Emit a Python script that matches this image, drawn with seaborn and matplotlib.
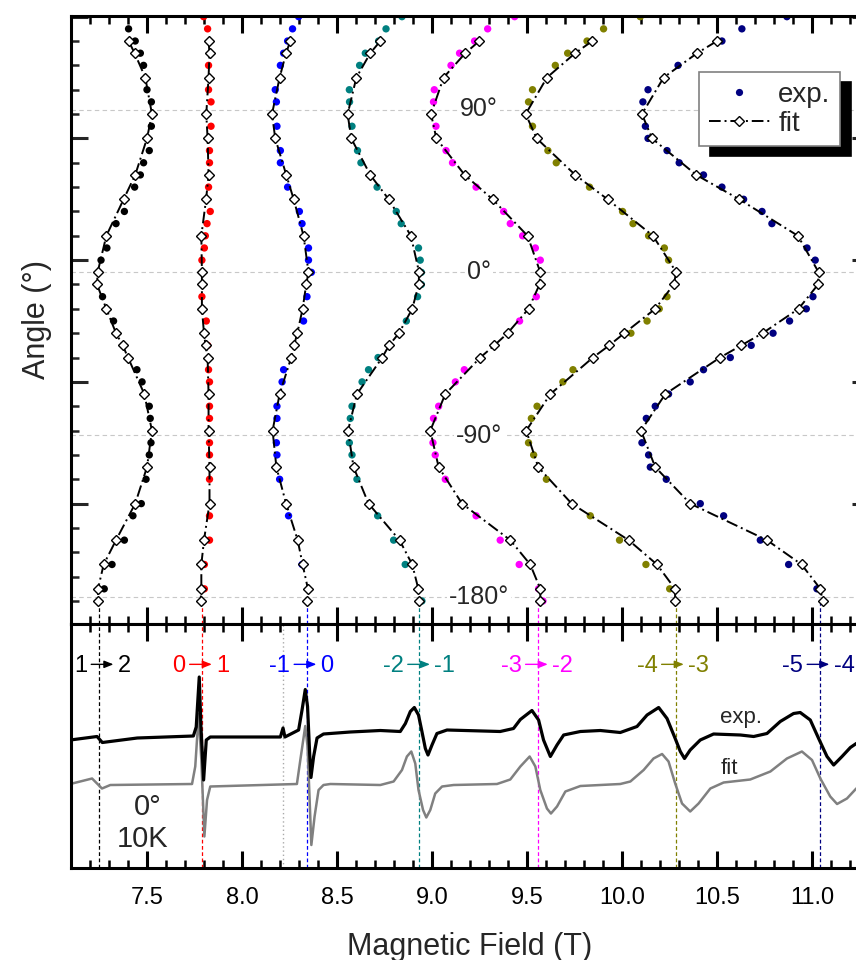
"""Angular dependence of the HFEPR transitions and the 0 deg / 10 K spectrum."""

import matplotlib

matplotlib.use("Agg")
import matplotlib.pyplot as plt
import pandas as pd
import seaborn as sns
from matplotlib.lines import Line2D
from matplotlib.ticker import MultipleLocator
from matplotlib.transforms import ScaledTranslation

CURVES = ["1-2", "0-1", "-1-0", "-2--1", "-3--2", "-4--3", "-5--4"]
COLORS = ["#000000", "#ff0000", "#0000ff", "#008080", "#ff00ff", "#808000", "#000080"]
LEVEL_FROM = ["1", "0", "-1", "-2", "-3", "-4", "-5"]
LEVEL_TO = ["2", "1", "0", "-1", "-2", "-3", "-4"]
TRANSITION_FIELD = [7.249, 7.791, 8.344, 8.933, 9.560, 10.286, 11.044]
ARROW_FIELD = [7.265, 7.783, 8.333, 8.931, 9.551, 10.267, 11.033]
DOTTED_FIELD = 8.217

# measured angles (deg) shared by all exp. series
EXP_ANGLE = [141.75, 135.0, 128.25, 121.5, 114.75, 108.0, 101.25, 94.5, 87.75, 81.0,
             74.25, 67.5, 60.75, 54.0, 47.25, 40.5, 33.75, 27.0, 20.25, 13.5,
             6.75, 0.0, -6.75, -13.5, -20.25, -27.0, -33.75, -40.5, -47.25, -54.0,
             -60.75, -67.5, -74.25, -81.0, -87.75, -94.5, -101.25, -108.0, -114.75, -121.5,
             -128.25, -135.0, -141.75, -148.5, -155.25, -162.0, -168.75, -175.5, -182.25]

FIT_ANGLE = [128.25, 121.5, 108.0, 87.75, 74.25, 54.0, 40.5, 20.25, 0.0, -6.75,
             -20.25, -33.75, -40.5, -47.25, -67.5, -87.75, -108.0, -128.25, -148.5, -162.0,
             -175.5, -182.25]

N = None
EXP_1_2 = [N, 7.403, 7.438, 7.465, 7.482, N, 7.500, 7.523, N, 7.523,
           N, 7.512, 7.482, 7.465, 7.435, N, 7.381, 7.337, N, 7.289,
           7.258, N, N, 7.266, N, 7.324, N, 7.375, N, 7.447,
           7.474, N, 7.512, 7.517, N, 7.521, 7.512, N, 7.495, N,
           7.470, 7.426, N, 7.381, N, 7.316, N, 7.275, N]
EXP_0_1 = [7.798, 7.819, N, N, 7.824, N, 7.824, 7.837, N, 7.837,
           N, 7.829, 7.829, N, 7.824, N, 7.833, 7.816, 7.807, 7.802,
           7.789, N, N, 7.789, N, 7.812, N, 7.819, N, 7.824,
           7.829, N, 7.829, 7.829, N, 7.829, 7.829, N, 7.829, N,
           N, 7.829, N, 7.829, N, 7.802, N, 7.802, N]
EXP_M1_0 = [8.298, 8.266, 8.240, 8.219, 8.202, N, 8.175, 8.181, N, 8.184,
            N, 8.202, 8.202, N, 8.240, N, 8.302, 8.316, N, 8.350,
            8.350, 8.365, N, 8.342, N, 8.324, N, N, N, 8.219,
            8.211, N, 8.184, 8.184, N, 8.181, 8.184, N, 8.198, N,
            N, 8.245, N, N, N, 8.316, N, N, N]
EXP_M2_M1 = [8.842, 8.758, 8.719, 8.649, 8.619, N, 8.565, 8.566, N, 8.579,
             N, 8.608, 8.626, N, 8.711, N, 8.812, 8.838, N, 8.929,
             8.938, 8.944, 8.944, 8.924, N, 8.865, N, N, 8.716, 8.666,
             8.632, N, 8.579, 8.570, N, 8.565, 8.579, N, 8.605, N,
             N, 8.714, N, 8.798, N, 8.859, N, N, 8.947]
EXP_M3_M2 = [9.435, 9.293, 9.224, 9.145, 9.100, N, 9.012, 9.008, N, 9.021,
             N, 9.074, 9.108, N, 9.232, N, 9.377, 9.412, 9.477, 9.544,
             9.570, N, N, 9.549, N, 9.461, N, N, N, 9.170,
             9.123, N, 9.035, 9.008, N, 9.005, 9.017, N, 9.070, N,
             N, 9.232, N, 9.359, N, 9.459, N, 9.561, 9.584]
EXP_M4_M3 = [10.096, 9.903, 9.816, 9.714, 9.649, N, 9.529, 9.508, N, 9.529,
             N, 9.610, 9.654, N, 9.829, N, 10.003, 10.058, 10.140, 10.223,
             10.245, N, N, 10.237, 10.196, 10.132, 10.047, N, N, 9.742,
             9.689, N, 9.553, 9.523, N, 9.508, 9.535, N, 9.602, N,
             N, 9.833, N, 9.987, N, 10.126, N, 10.251, N]
EXP_M5_M4 = [10.868, 10.631, 10.526, N, 10.295, N, 10.137, 10.110, N, 10.123,
             10.137, 10.237, 10.301, 10.429, 10.526, 10.640, 10.737, 10.789, N, 10.974,
             11.017, N, N, 11.005, 10.970, 10.882, 10.795, 10.680, 10.570, 10.429,
             10.359, 10.245, 10.175, 10.128, N, 10.105, 10.140, 10.149, 10.233, N,
             10.412, 10.535, N, 10.728, N, 10.877, N, 11.026, N]

FIT_1_2 = [7.403, 7.435, 7.491, 7.526, 7.500, 7.438, 7.377, 7.286, 7.240, 7.237, 7.286,
           7.337, 7.372, 7.400, 7.486, 7.526, 7.500, 7.438, 7.337, 7.272, 7.242, 7.242]
FIT_0_1 = [7.824, 7.829, 7.824, 7.812, 7.819, 7.824, 7.811, 7.786, 7.789, 7.789, 7.789,
           7.800, 7.808, 7.819, 7.824, 7.824, 7.829, 7.829, 7.800, 7.786, 7.786, 7.782]
FIT_M1_0 = [8.254, 8.232, 8.198, 8.158, 8.175, 8.233, 8.272, 8.324, 8.350, 8.338, 8.319,
            8.291, 8.274, 8.259, 8.198, 8.161, 8.181, 8.232, 8.293, 8.319, 8.347, 8.344]
FIT_M2_M1 = [8.728, 8.675, 8.602, 8.556, 8.575, 8.675, 8.772, 8.889, 8.932, 8.930, 8.896,
             8.826, 8.774, 8.738, 8.605, 8.558, 8.587, 8.666, 8.829, 8.896, 8.928, 8.932]
FIT_M3_M2 = [9.249, 9.175, 9.061, 8.995, 9.023, 9.172, 9.319, 9.503, 9.570, 9.566, 9.508,
             9.398, 9.328, 9.254, 9.070, 8.991, 9.035, 9.158, 9.412, 9.517, 9.570, 9.570]
FIT_M4_M3 = [9.844, 9.753, 9.605, 9.493, 9.551, 9.754, 9.924, 10.163, 10.286, 10.272, 10.175,
             10.012, 9.933, 9.847, 9.623, 9.496, 9.559, 9.735, 10.035, 10.184, 10.279, 10.280]
FIT_M5_M4 = [10.500, 10.395, 10.219, 10.105, 10.158, 10.391, 10.617, 10.926, 11.035, 11.032, 10.929,
             10.740, 10.628, 10.516, 10.228, 10.100, 10.175, 10.359, 10.763, 10.945, 11.044, 11.056]

EXP_FIELDS = [EXP_1_2, EXP_0_1, EXP_M1_0, EXP_M2_M1, EXP_M3_M2, EXP_M4_M3, EXP_M5_M4]
FIT_FIELDS = [FIT_1_2, FIT_0_1, FIT_M1_0, FIT_M2_M1, FIT_M3_M2, FIT_M4_M3, FIT_M5_M4]

# 0 deg, 10 K spectrum (arbitrary units)
SPEC_EXP_FIELD = [7.096, 7.237, 7.265, 7.449, 7.744, 7.759, 7.775, 7.784, 7.798, 7.812,
                  7.833, 8.202, 8.216, 8.226, 8.298, 8.316, 8.333, 8.345, 8.356, 8.363,
                  8.377, 8.395, 8.429, 8.570, 8.728, 8.833, 8.860, 8.886, 8.907, 8.929,
                  8.947, 8.965, 8.979, 9.000, 9.026, 9.079, 9.359, 9.429, 9.465, 9.526,
                  9.561, 9.587, 9.623, 9.658, 9.693, 9.781, 9.886, 9.991, 10.079, 10.132,
                  10.193, 10.237, 10.280, 10.307, 10.329, 10.359, 10.412, 10.482, 10.623, 10.693,
                  10.763, 10.833, 10.903, 10.938, 10.991, 11.035, 11.079, 11.114, 11.158, 11.202,
                  11.233, 11.307]
SPEC_EXP_SIGNAL = [0.88, 0.95, 0.83, 0.92, 0.96, 1.14, 2.14, 1.14, 0.08, 0.88,
                   0.94, 0.94, 1.12, 0.94, 1.08, 1.48, 1.89, 1.55, 0.62, 0.13,
                   0.55, 0.92, 1.00, 1.04, 1.07, 1.05, 1.21, 1.45, 1.53, 1.38,
                   1.05, 0.71, 0.58, 0.78, 1.01, 1.08, 1.05, 1.11, 1.29, 1.47,
                   1.28, 0.88, 0.55, 0.78, 0.98, 1.05, 1.07, 1.03, 1.15, 1.38,
                   1.53, 1.31, 0.91, 0.65, 0.51, 0.68, 0.88, 1.00, 0.98, 0.95,
                   1.01, 1.25, 1.41, 1.43, 1.28, 0.91, 0.55, 0.38, 0.55, 0.73,
                   0.81, 0.90]
SPEC_FIT_FIELD = [7.096, 7.211, 7.263, 7.307, 7.737, 7.754, 7.772, 7.786, 7.802, 7.816,
                  7.833, 8.289, 8.307, 8.333, 8.345, 8.356, 8.365, 8.382, 8.403, 8.429,
                  8.465, 8.728, 8.798, 8.842, 8.868, 8.891, 8.912, 8.929, 8.953, 8.970,
                  8.991, 9.017, 9.053, 9.114, 9.342, 9.412, 9.465, 9.514, 9.544, 9.570,
                  9.605, 9.626, 9.658, 9.702, 9.781, 9.991, 10.044, 10.114, 10.166, 10.211,
                  10.245, 10.280, 10.316, 10.359, 10.403, 10.465, 10.535, 10.675, 10.781, 10.868,
                  10.947, 11.000, 11.044, 11.096, 11.132, 11.184, 11.233, 11.307]
SPEC_FIT_SIGNAL = [0.00, 0.11, -0.09, -0.02, 0.00, 0.35, 1.40, 0.48, -1.05, -0.32,
                   -0.05, 0.00, 0.48, 1.16, 0.75, -0.32, -1.22, -0.65, -0.12, -0.02,
                   0.00, -0.02, 0.05, 0.28, 0.55, 0.65, 0.41, -0.12, -0.52, -0.67,
                   -0.52, -0.19, -0.05, -0.02, 0.00, 0.09, 0.35, 0.55, 0.35, -0.12,
                   -0.49, -0.59, -0.45, -0.15, -0.04, 0.00, 0.05, 0.28, 0.51, 0.60,
                   0.45, 0.01, -0.39, -0.55, -0.39, -0.09, 0.03, 0.09, 0.25, 0.51,
                   0.65, 0.48, 0.11, -0.25, -0.40, -0.29, -0.09, 0.05]

ANGLE_MARKS = [90, 0, -90, -180]
ANGLE_TEXT = ["90°", "0°", "-90°", "-180°"]
ANGLE_TEXT_Y = [86.7, -3.9, -94.5, -183.9]
ANGLE_TEXT_X = 9.247

FIT_DASHES = (6, 2, 1, 2)


def build_frame() -> pd.DataFrame:
    rows = []
    for name, fields in zip(CURVES, EXP_FIELDS):
        for angle, field in zip(EXP_ANGLE, fields):
            if field is not None:
                rows.append({"curve": name, "angle": angle, "field": field})
    return pd.DataFrame(rows)


def style_ticks(ax, show_labels: bool) -> None:
    ax.set_xlim(7.10, 11.30)
    ax.xaxis.set_major_locator(MultipleLocator(0.5))
    ax.xaxis.set_minor_locator(MultipleLocator(0.1))
    ax.tick_params(axis="x", which="both", direction="in", top=True, bottom=True,
                   labelbottom=show_labels, labelsize=17, pad=14, colors="black")
    ax.tick_params(axis="both", which="major", length=12, width=2.2)
    ax.tick_params(axis="both", which="minor", length=5.5, width=1.8)
    for spine in ax.spines.values():
        spine.set_visible(True)
        spine.set_linewidth(2.2)
        spine.set_color("black")


def draw_transition_labels(fig, ax, baseline: float) -> None:
    for field, lo, hi, color in zip(ARROW_FIELD, LEVEL_FROM, LEVEL_TO, COLORS):
        ax.annotate(lo, xy=(field, baseline), xytext=(-11, 0), textcoords="offset points",
                    ha="right", va="baseline", fontsize=17, color=color)
        ax.annotate(hi, xy=(field, baseline), xytext=(11, 0), textcoords="offset points",
                    ha="left", va="baseline", fontsize=17, color=color)
        head = ax.transData + ScaledTranslation(8 / 72, 5.3 / 72, fig.dpi_scale_trans)
        ax.annotate("", xy=(field, baseline), xycoords=head, xytext=(-16, 0),
                    textcoords="offset points",
                    arrowprops=dict(arrowstyle="-|>,head_length=0.55,head_width=0.22",
                                    color=color, lw=1.0, shrinkA=0, shrinkB=0,
                                    mutation_scale=10))


def main() -> None:
    sns.set_theme(style="ticks")
    plt.rcParams["font.family"] = ["Liberation Sans", "DejaVu Sans"]

    exp_df = build_frame()

    fig = plt.figure(figsize=(8.56, 9.6), dpi=100)
    ax_top = fig.add_axes([0.08294, 0.35, 0.93224, 0.63385])
    ax_bot = fig.add_axes([0.08294, 0.09583, 0.93224, 0.25417])

    # ---- angular dependence ----
    for mark in ANGLE_MARKS:
        ax_top.axhline(mark, color="#c8c8c8", lw=0.8, ls=(0, (4, 3)), zorder=0)

    sns.scatterplot(data=exp_df, x="field", y="angle", hue="curve", hue_order=CURVES,
                    palette=COLORS, s=28, edgecolor="none", legend=False, ax=ax_top, zorder=2)

    for fields in FIT_FIELDS:
        ax_top.plot(fields, FIT_ANGLE, color="black", lw=1.4, dashes=FIT_DASHES, zorder=3)
        ax_top.plot(fields, FIT_ANGLE, ls="none", marker="D", ms=5.6, mfc="white",
                    mec="black", mew=1.0, zorder=4)

    for text, y in zip(ANGLE_TEXT, ANGLE_TEXT_Y):
        ax_top.text(ANGLE_TEXT_X, y, text, ha="center", va="baseline", fontsize=18,
                    bbox=dict(facecolor="white", edgecolor="none", pad=1.5), zorder=1)

    ax_top.vlines(TRANSITION_FIELD, -195.0, -183.5, colors=COLORS, lw=0.9,
                  linestyles=(0, (3, 2)), zorder=1)

    ax_top.set_ylim(-195.0, 142.4)
    ax_top.yaxis.set_major_locator(MultipleLocator(67.5, offset=6.75))
    ax_top.yaxis.set_minor_locator(MultipleLocator(13.5, offset=6.75))
    ax_top.tick_params(axis="y", which="both", direction="in", left=True, right=True,
                       labelleft=False)
    style_ticks(ax_top, show_labels=False)
    ax_top.set_xlabel("")
    ax_top.set_ylabel("Angle (°)", fontsize=22, labelpad=14)

    handles = [
        Line2D([], [], ls="none", marker="o", ms=5.2, mfc="#000080", mec="none"),
        Line2D([], [], color="black", lw=1.4, dashes=FIT_DASHES, marker="D", ms=5.6,
               mfc="white", mec="black", mew=1.0),
    ]
    legend = ax_top.legend(handles, ["exp.", "fit"], loc="upper left",
                           bbox_to_anchor=(0.787, 0.907), borderaxespad=0, fontsize=20,
                           frameon=True, fancybox=False, handlelength=2.2,
                           handletextpad=0.3, labelspacing=0.1, borderpad=0.35,
                           numpoints=1,
                           shadow={"ox": 8, "oy": -7, "color": "black", "alpha": 1})
    legend.get_frame().set_edgecolor("#808080")
    legend.get_frame().set_linewidth(1.2)
    legend.get_frame().set_alpha(1)

    # ---- spectrum ----
    ax_bot.vlines(TRANSITION_FIELD, -1.68, 3.2, colors=COLORS, lw=0.9,
                  linestyles=(0, (3, 2)), zorder=1)
    ax_bot.axvline(DOTTED_FIELD, color="#aaaaaa", lw=1.0, ls=(0, (1, 2)), zorder=1)

    sns.lineplot(x=SPEC_FIT_FIELD, y=SPEC_FIT_SIGNAL, sort=False, estimator=None,
                 color="#808080", lw=1.8, ax=ax_bot, zorder=2)
    sns.lineplot(x=SPEC_EXP_FIELD, y=SPEC_EXP_SIGNAL, sort=False, estimator=None,
                 color="black", lw=2.3, ax=ax_bot, zorder=3)

    draw_transition_labels(fig, ax_bot, 2.246)

    ax_bot.text(10.625, 1.22, "exp.", ha="center", va="baseline", fontsize=16)
    ax_bot.text(10.563, 0.21, "fit", ha="center", va="baseline", fontsize=16)
    ax_bot.text(7.504, -0.62, "0°", ha="center", va="baseline", fontsize=21)
    ax_bot.text(7.478, -1.26, "10K", ha="center", va="baseline", fontsize=21)

    ax_bot.set_ylim(-1.68, 3.2)
    ax_bot.tick_params(axis="y", left=False, right=False, labelleft=False)
    style_ticks(ax_bot, show_labels=True)
    ax_bot.set_ylabel("")
    ax_bot.set_xlabel("Magnetic Field (T)", fontsize=22, labelpad=16)

    fig.savefig("out.png", dpi=100, facecolor="white")
    plt.close(fig)


if __name__ == "__main__":
    main()
